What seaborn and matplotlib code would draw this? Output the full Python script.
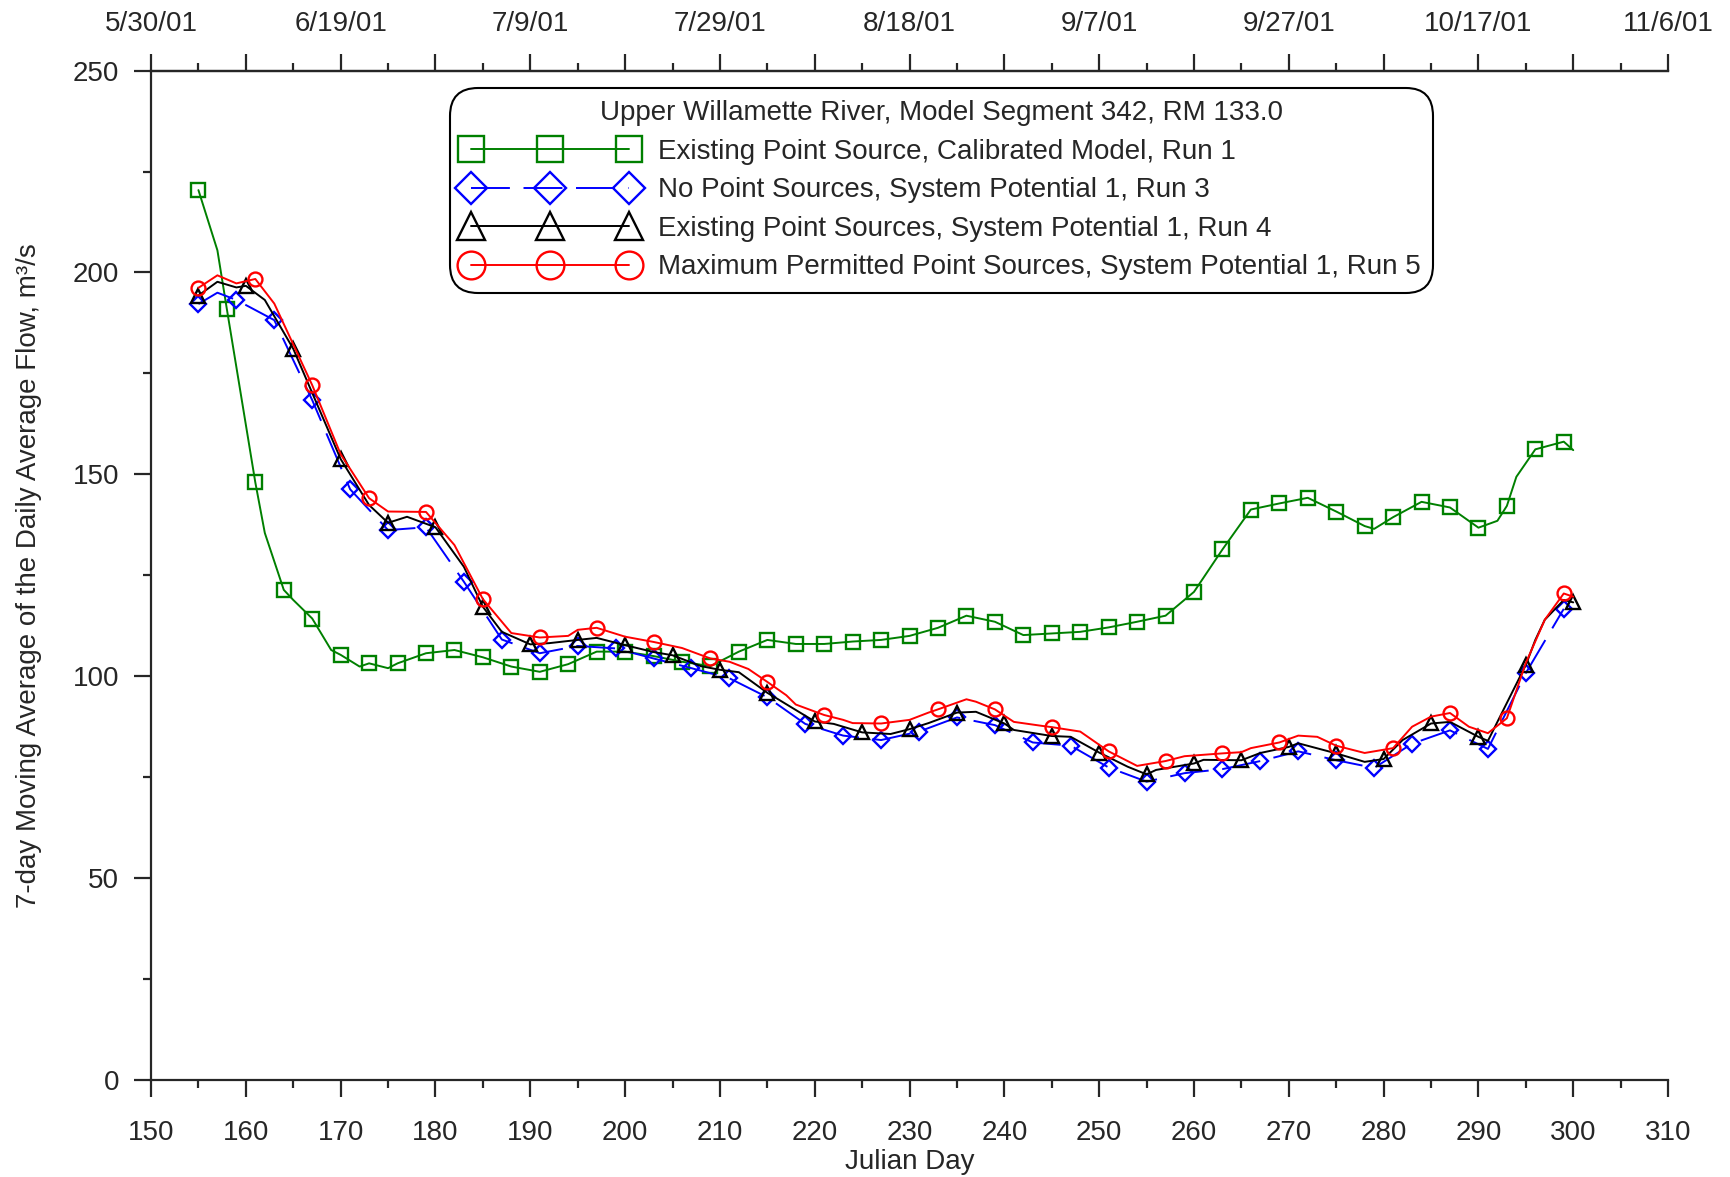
import matplotlib
matplotlib.use('Agg')
import matplotlib.pyplot as plt
from matplotlib.ticker import MultipleLocator, FixedLocator
import seaborn as sns

# Run 1: existing point sources, calibrated model
run1_day = [155, 157, 158, 161, 162, 164, 165, 167, 169, 170, 172, 173, 175, 176,
            179, 182, 185, 188, 191, 194, 197, 200, 203, 206, 209, 212, 215, 218,
            221, 224, 227, 230, 233, 236, 239, 242, 245, 248, 251, 254, 257, 260,
            263, 266, 269, 272, 275, 278, 279, 281, 284, 287, 290, 292, 293, 294,
            296, 299, 300]
run1_flow = [220.4, 205.5, 190.9, 148.0, 135.5, 121.4, 118.9, 114.3, 106.5, 105.3,
             102.4, 103.2, 102.0, 103.2, 105.7, 106.5, 104.7, 102.4, 101.1, 103.0,
             106.1, 106.1, 105.0, 103.6, 102.5, 106.1, 109.0, 108.0, 108.0, 108.6,
             109.0, 110.0, 112.0, 115.0, 113.5, 110.2, 110.6, 111.0, 112.1, 113.5,
             115.0, 120.9, 131.4, 141.3, 142.8, 144.2, 140.8, 137.2, 136.5, 139.4,
             143.2, 141.8, 136.8, 138.5, 142.2, 149.4, 156.2, 158.1, 156.0]

# Run 3: no point sources, system potential 1
run3_day = [155, 157, 159, 163, 167, 171, 175, 179, 183, 187, 191, 195, 199, 203,
            207, 211, 215, 219, 223, 227, 231, 235, 239, 243, 247, 251, 255, 259,
            263, 267, 271, 275, 279, 283, 287, 291, 295, 299]
run3_flow = [192.2, 195.0, 193.2, 188.2, 168.4, 146.3, 136.2, 136.9, 123.4, 109.1,
             105.7, 107.5, 106.9, 104.4, 102.0, 99.5, 94.8, 88.2, 85.3, 84.2, 86.3,
             89.8, 87.9, 83.6, 82.8, 77.4, 73.9, 76.0, 77.0, 79.0, 81.4, 79.2, 77.3,
             83.3, 86.6, 82.0, 100.8, 116.7]

# Run 4: existing point sources, system potential 1
run4_day = [155, 157, 159, 160, 162, 165, 170, 173, 175, 177, 180, 183, 185, 187,
            190, 192, 195, 197, 200, 203, 205, 208, 210, 212, 215, 216, 220, 222,
            225, 228, 230, 232, 235, 237, 240, 241, 245, 247, 250, 253, 255, 256,
            260, 261, 265, 267, 270, 271, 275, 278, 280, 282, 285, 287, 290, 291,
            295, 296, 297, 299, 300]
run4_flow = [194.3, 197.7, 196.3, 196.7, 193.2, 181.1, 153.8, 142.4, 138.0, 139.5,
             136.9, 127.1, 117.2, 111.0, 107.9, 108.2, 109.0, 109.5, 107.7, 106.0,
             105.2, 102.5, 101.6, 101.0, 95.9, 94.5, 88.8, 88.2, 86.1, 85.7, 86.9,
             88.4, 91.0, 91.2, 88.3, 86.7, 85.2, 85.0, 81.1, 77.6, 75.7, 76.8, 78.4,
             79.3, 79.2, 81.0, 82.5, 83.4, 80.9, 78.8, 79.5, 84.2, 88.3, 88.7, 85.0,
             84.0, 102.8, 109.0, 114.0, 118.9, 118.3]

# Run 5: maximum permitted point sources, system potential 1
run5_day = [155, 157, 159, 161, 163, 167, 170, 173, 175, 179, 182, 185, 188, 191,
            194, 195, 197, 200, 203, 206, 209, 211, 213, 215, 217, 218, 221, 223,
            224, 227, 230, 232, 233, 236, 237, 239, 241, 244, 245, 248, 251, 254,
            257, 259, 263, 265, 266, 269, 271, 273, 275, 278, 281, 283, 285, 287,
            289, 291, 293, 295, 297, 299, 300]
run5_flow = [196.2, 199.3, 197.3, 198.4, 192.3, 172.1, 155.0, 144.1, 140.8, 140.7,
             132.5, 119.1, 110.7, 109.6, 110.0, 111.5, 112.0, 109.8, 108.5, 107.0,
             104.4, 103.6, 101.8, 98.6, 95.3, 93.0, 90.4, 89.2, 88.4, 88.3, 89.2,
             91.0, 91.8, 94.3, 93.7, 91.8, 88.7, 87.7, 87.4, 86.3, 81.4, 77.8, 79.0,
             80.2, 80.9, 81.2, 82.2, 83.6, 85.3, 85.0, 82.8, 81.0, 82.2, 87.5, 90.0,
             90.9, 87.5, 85.9, 89.6, 103.3, 114.0, 120.5, 119.7]

labels = ['Existing Point Source, Calibrated Model, Run 1',
          'No Point Sources, System Potential 1, Run 3',
          'Existing Point Sources, System Potential 1, Run 4',
          'Maximum Permitted Point Sources, System Potential 1, Run 5']
legend_title = 'Upper Willamette River, Model Segment 342, RM 133.0'
top_labels = ['5/30/01', '6/19/01', '7/9/01', '7/29/01', '8/18/01',
              '9/7/01', '9/27/01', '10/17/01', '11/6/01']

sns.set_style('ticks')
plt.rcParams['font.family'] = ['Liberation Sans', 'DejaVu Sans']
plt.rcParams['axes.linewidth'] = 1.6

FS = 20

fig, ax = plt.subplots(figsize=(17.3, 11.77), dpi=100)
fig.subplots_adjust(left=0.0873, right=0.9642, top=0.94, bottom=0.0824)

series = [
    (run1_day, run1_flow, '#008000', 's', 9.5, 3, '-'),
    (run3_day, run3_flow, '#0000FF', 'D', 8.0, 4, (0, (20, 7))),
    (run4_day, run4_flow, 'black', '^', 10.0, 5, '-'),
    (run5_day, run5_flow, '#FF0000', 'o', 10.0, 6, '-'),
]
for (d, f, c, m, ms, step, ls), lab in zip(series, labels):
    marks = [i for i, x in enumerate(d) if (x - 155) % step == 0]
    sns.lineplot(x=d, y=f, ax=ax, color=c, linestyle=ls, linewidth=1.4,
                 marker=m, markersize=ms, markevery=marks,
                 markerfacecolor='none', markeredgecolor=c, markeredgewidth=1.7,
                 label=lab, legend=False)

ax.set_xlim(150, 310)
ax.set_ylim(0, 250)
ax.xaxis.set_major_locator(MultipleLocator(10))
ax.xaxis.set_minor_locator(MultipleLocator(5))
ax.yaxis.set_major_locator(MultipleLocator(50))
ax.yaxis.set_minor_locator(MultipleLocator(25))
ax.spines['right'].set_visible(False)
ax.tick_params(axis='both', which='major', direction='out', length=12, width=1.6,
               labelsize=FS)
ax.tick_params(axis='both', which='minor', direction='out', length=6, width=1.6)
ax.tick_params(axis='x', which='major', pad=17)
ax.tick_params(axis='y', which='major', pad=11)

top = ax.secondary_xaxis('top')
top.xaxis.set_major_locator(FixedLocator(list(range(150, 311, 10))))
top.xaxis.set_minor_locator(FixedLocator(list(range(155, 310, 10))))
tl = []
for i in range(17):
    tl.append(top_labels[i // 2] if i % 2 == 0 else '')
top.set_xticklabels(tl)
top.tick_params(axis='x', which='major', direction='out', length=12, width=1.6,
                labelsize=FS, pad=12)
top.tick_params(axis='x', which='minor', direction='out', length=6, width=1.6)
top.spines['top'].set_linewidth(1.6)

ax.set_xlabel('Julian Day', fontsize=FS)
ax.set_ylabel('7-day Moving Average of the Daily Average Flow, m³/s', fontsize=FS)
ax.xaxis.set_label_coords(0.5, -0.068)
ax.yaxis.set_label_coords(-0.072, 0.5)

leg = ax.legend(loc='upper left', bbox_to_anchor=(0.197, 0.983), borderaxespad=0,
                title=legend_title, fontsize=FS, title_fontsize=FS, numpoints=3,
                markerscale=2.0, handlelength=6.3, handletextpad=0.75,
                labelspacing=0.45, borderpad=0.45, frameon=True, fancybox=True,
                framealpha=1)
fr = leg.get_frame()
fr.set_edgecolor('black')
fr.set_linewidth(1.5)
fr.set_boxstyle('round,pad=0,rounding_size=1.0')

fig.savefig('out.png', dpi=100)
